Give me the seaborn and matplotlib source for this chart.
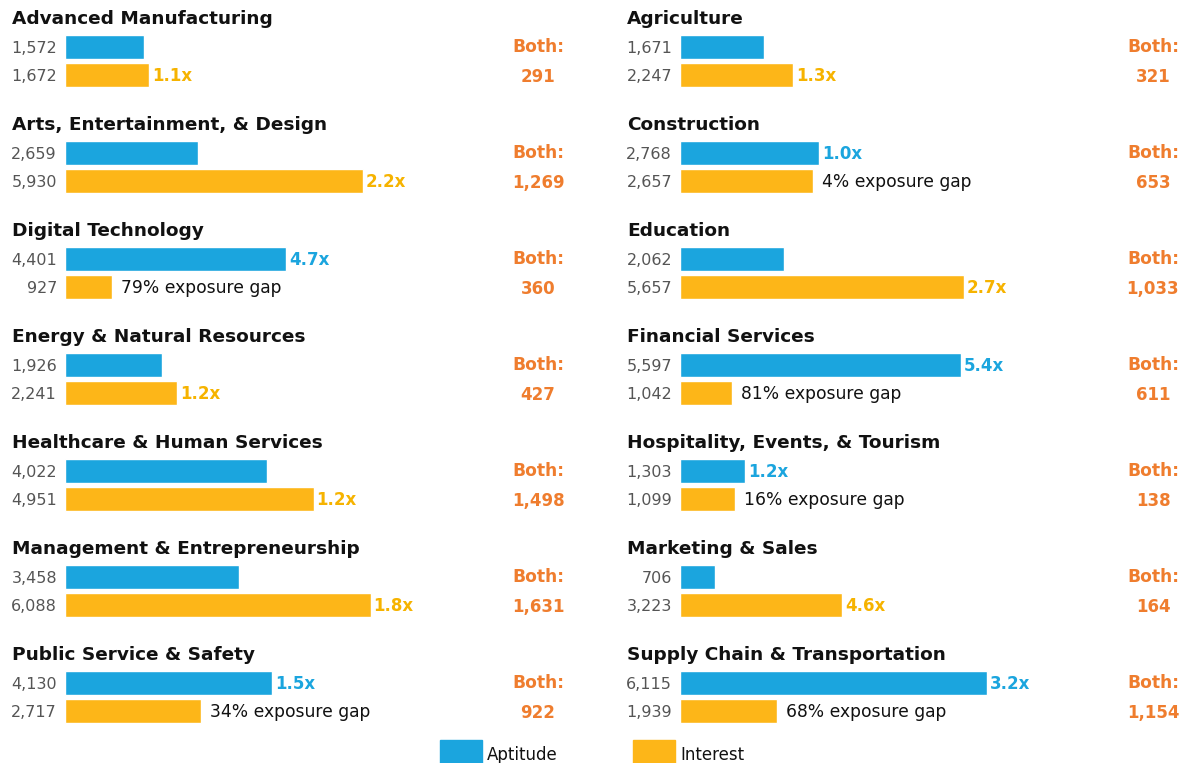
import matplotlib
matplotlib.use("Agg")
import matplotlib.pyplot as plt
import seaborn as sns
import pandas as pd
from matplotlib.patches import Rectangle

# ============ DATA ============
sectors = [
    "Advanced Manufacturing", "Agriculture",
    "Arts, Entertainment, & Design", "Construction",
    "Digital Technology", "Education",
    "Energy & Natural Resources", "Financial Services",
    "Healthcare & Human Services", "Hospitality, Events, & Tourism",
    "Management & Entrepreneurship", "Marketing & Sales",
    "Public Service & Safety", "Supply Chain & Transportation",
]
aptitude = [1572, 1671, 2659, 2768, 4401, 2062, 1926, 5597, 4022, 1303, 3458, 706, 4130, 6115]
interest = [1672, 2247, 5930, 2657, 927, 5657, 2241, 1042, 4951, 1099, 6088, 3223, 2717, 1939]
both = [291, 321, 1269, 653, 360, 1033, 427, 611, 1498, 138, 1631, 164, 922, 1154]
ratio_labels = ["1.1x", "1.3x", "2.2x", "1.0x", "4.7x", "2.7x", "1.2x",
                "5.4x", "1.2x", "1.2x", "1.8x", "4.6x", "1.5x", "3.2x"]
gap_labels = ["", "", "", "4% exposure gap", "79% exposure gap", "", "",
              "81% exposure gap", "", "16% exposure gap", "", "", "34% exposure gap",
              "68% exposure gap"]

# ============ STYLE ============
BLUE = "#1ba5de"
GOLD = "#fdb618"
GOLD_TXT = "#f6b300"
BOTH_TXT = "#ef7d2e"
GREY_TXT = "#555555"

sns.set_style("white")
plt.rcParams["font.family"] = ["DejaVu Sans"]

W, H = 1185, 763
fig = plt.figure(figsize=(W / 100, H / 100), dpi=100)
fig.patch.set_facecolor("white")

def fx(px):
    return px / W

def fy(py):
    return 1 - py / H

PX_PER_UNIT = 0.0502
AX_W = 460
col_x = [65, 680]
row_pitch = 106

for i, name in enumerate(sectors):
    r, c = divmod(i, 2)
    x0 = col_x[c]
    top = 33 + row_pitch * r

    # title (baseline under the caps)
    fig.text(fx(x0 - 53), fy(24 + row_pitch * r), name, fontsize=13.3,
             fontweight="bold", color="#111111", va="baseline", ha="left")

    ax = fig.add_axes([fx(x0), fy(top + 56), fx(AX_W), 56 / H])
    df = pd.DataFrame({"kind": ["Aptitude", "Interest"],
                       "value": [aptitude[i], interest[i]]})
    sns.barplot(data=df, x="value", y="kind", hue="kind",
                palette=[BLUE, GOLD], orient="h", width=0.86,
                legend=False, ax=ax, saturation=1)
    ax.set_xlim(0, AX_W / PX_PER_UNIT)
    ax.set_ylim(1.5, -0.5)
    ax.axis("off")

    # value labels left of bars
    for j, v in enumerate([aptitude[i], interest[i]]):
        ax.annotate(f"{v:,}", xy=(0, j), xytext=(-8, -6), textcoords="offset pixels",
                    ha="right", va="baseline", fontsize=11.5, color=GREY_TXT)

    # ratio and gap labels
    if aptitude[i] >= interest[i]:
        ax.annotate(ratio_labels[i], xy=(aptitude[i], 0), xytext=(3, -6),
                    textcoords="offset pixels", ha="left", va="baseline",
                    fontsize=12, fontweight="bold", color=BLUE)
        ax.annotate(gap_labels[i], xy=(interest[i], 1), xytext=(9, -6),
                    textcoords="offset pixels", ha="left", va="baseline",
                    fontsize=12.3, color="#111111")
    else:
        ax.annotate(ratio_labels[i], xy=(interest[i], 1), xytext=(3, -6),
                    textcoords="offset pixels", ha="left", va="baseline",
                    fontsize=12, fontweight="bold", color=GOLD_TXT)

    # both count
    bx = 538 + 615 * c
    fig.text(fx(bx), fy(52 + row_pitch * r), "Both:", fontsize=12.3,
             fontweight="bold", color=BOTH_TXT, ha="center", va="baseline")
    fig.text(fx(bx), fy(82 + row_pitch * r), f"{both[i]:,}", fontsize=12,
             fontweight="bold", color=BOTH_TXT, ha="center", va="baseline")

# ============ LEGEND ============
for lx, col, lab in [(440, BLUE, "Aptitude"), (633, GOLD, "Interest")]:
    fig.patches.append(Rectangle((fx(lx), fy(765)), fx(42), 25 / H,
                                 transform=fig.transFigure, color=col))
    fig.text(fx(lx + 47), fy(760), lab, fontsize=12, color="#111111",
             ha="left", va="baseline")

plt.savefig("out.png", dpi=100)
plt.close()
